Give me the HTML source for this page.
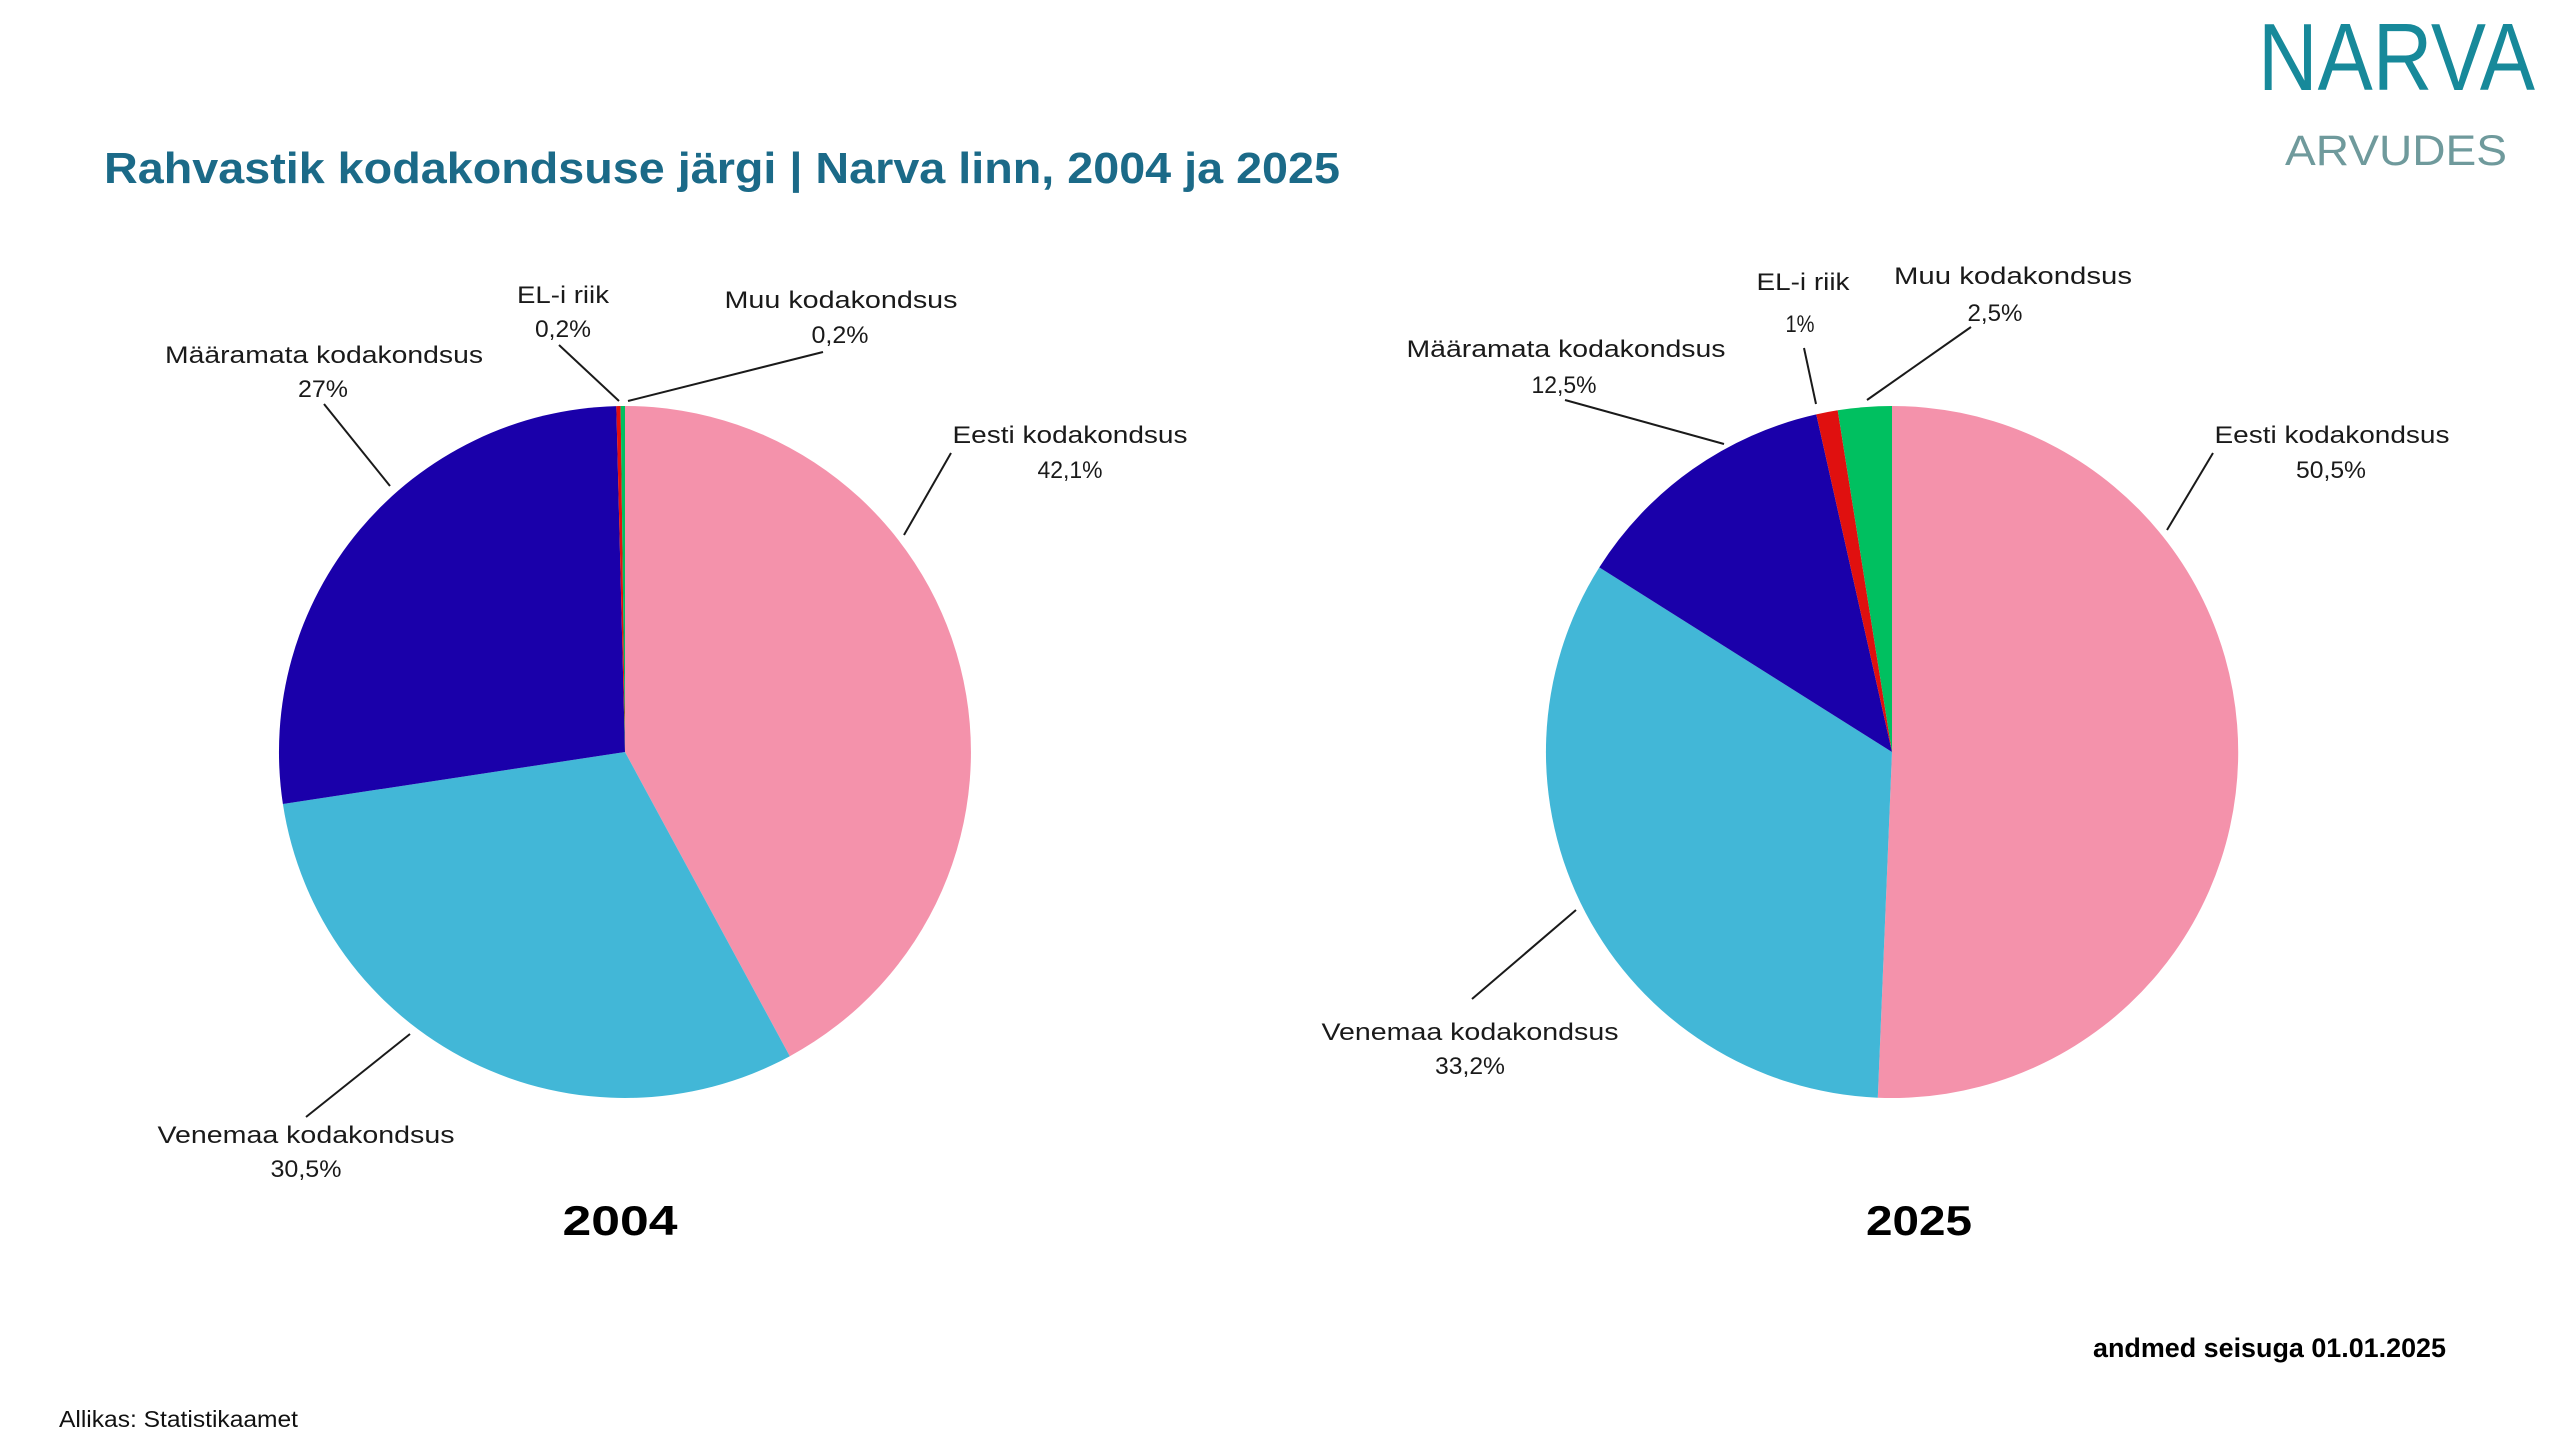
<!DOCTYPE html>
<html>
<head>
<meta charset="utf-8">
<style>
html,body{margin:0;padding:0;background:#fff;}
svg{display:block;}
text{font-family:"Liberation Sans",sans-serif;}
</style>
</head>
<body>
<svg width="2560" height="1440" viewBox="0 0 2560 1440" xmlns="http://www.w3.org/2000/svg">
<rect width="2560" height="1440" fill="#ffffff"/>

<!-- Logo -->
<text transform="translate(2258,90) scale(1,1.19)" x="0" y="0" font-size="80" fill="#17899a" textLength="277" lengthAdjust="spacingAndGlyphs">NARVA</text>
<text x="2285" y="165" font-size="43" fill="#6f9a9c" textLength="222" lengthAdjust="spacingAndGlyphs">ARVUDES</text>

<!-- Title -->
<text x="104" y="183" font-size="44" font-weight="bold" fill="#1b6a88" textLength="1236" lengthAdjust="spacingAndGlyphs">Rahvastik kodakondsuse järgi | Narva linn, 2004 ja 2025</text>

<!-- Pie 2004 -->
<g>
<path d="M625,752 L625,406 A346,346 0 0 1 789.8,1056.2 Z" fill="#f492ab"/>
<path d="M625,752 L789.8,1056.2 A346,346 0 0 1 282.9,804.0 Z" fill="#42b7d7"/>
<path d="M625,752 L282.9,804.0 A346,346 0 0 1 616.3,406.1 Z" fill="#1a00aa"/>
<path d="M625,752 L616.3,406.1 A346,346 0 0 1 620.65,406.03 Z" fill="#e0100f"/>
<path d="M625,752 L620.65,406.03 A346,346 0 0 1 625,406 Z" fill="#00c060"/>
</g>

<!-- Pie 2025 -->
<g>
<path d="M1892,752 L1892,406 A346,346 0 1 1 1877.8,1097.7 Z" fill="#f492ab"/>
<path d="M1892,752 L1877.8,1097.7 A346,346 0 0 1 1599.3,567.4 Z" fill="#42b7d7"/>
<path d="M1892,752 L1599.3,567.4 A346,346 0 0 1 1816.3,414.4 Z" fill="#1a00aa"/>
<path d="M1892,752 L1816.3,414.4 A346,346 0 0 1 1837.7,410.3 Z" fill="#e0100f"/>
<path d="M1892,752 L1837.7,410.3 A346,346 0 0 1 1892,406 Z" fill="#00c060"/>
</g>

<!-- Leader lines -->
<g stroke="#1a1a1a" stroke-width="2" fill="none">
<line x1="559" y1="345" x2="619" y2="401"/>
<line x1="823" y1="352" x2="628" y2="401"/>
<line x1="324" y1="404" x2="390" y2="486"/>
<line x1="951" y1="453" x2="904" y2="535"/>
<line x1="306" y1="1117" x2="410" y2="1034"/>

<line x1="1804" y1="348" x2="1816" y2="404"/>
<line x1="1971" y1="327" x2="1867" y2="400"/>
<line x1="1565" y1="400" x2="1724" y2="444"/>
<line x1="2213" y1="453" x2="2167" y2="530"/>
<line x1="1576" y1="910" x2="1472" y2="999"/>
</g>

<!-- Labels 2004 -->
<g font-size="24" fill="#1a1a1a" text-anchor="middle">
<text x="563" y="303" textLength="92" lengthAdjust="spacingAndGlyphs">EL-i riik</text>
<text x="563" y="337" textLength="56" lengthAdjust="spacingAndGlyphs">0,2%</text>
<text x="841" y="308" textLength="233" lengthAdjust="spacingAndGlyphs">Muu kodakondsus</text>
<text x="840" y="343" textLength="57" lengthAdjust="spacingAndGlyphs">0,2%</text>
<text x="324" y="363" textLength="318" lengthAdjust="spacingAndGlyphs">Määramata kodakondsus</text>
<text x="323" y="397" textLength="50" lengthAdjust="spacingAndGlyphs">27%</text>
<text x="1070" y="443" textLength="235" lengthAdjust="spacingAndGlyphs">Eesti kodakondsus</text>
<text x="1070" y="478" textLength="65" lengthAdjust="spacingAndGlyphs">42,1%</text>
<text x="306" y="1143" textLength="297" lengthAdjust="spacingAndGlyphs">Venemaa kodakondsus</text>
<text x="306" y="1177" textLength="71" lengthAdjust="spacingAndGlyphs">30,5%</text>
</g>

<!-- Labels 2025 -->
<g font-size="24" fill="#1a1a1a" text-anchor="middle">
<text x="1803" y="290" textLength="93" lengthAdjust="spacingAndGlyphs">EL-i riik</text>
<text x="1800" y="332" textLength="29" lengthAdjust="spacingAndGlyphs">1%</text>
<text x="2013" y="284" textLength="238" lengthAdjust="spacingAndGlyphs">Muu kodakondsus</text>
<text x="1995" y="321" textLength="55" lengthAdjust="spacingAndGlyphs">2,5%</text>
<text x="1566" y="357" textLength="319" lengthAdjust="spacingAndGlyphs">Määramata kodakondsus</text>
<text x="1564" y="393" textLength="65" lengthAdjust="spacingAndGlyphs">12,5%</text>
<text x="2332" y="443" textLength="235" lengthAdjust="spacingAndGlyphs">Eesti kodakondsus</text>
<text x="2331" y="478" textLength="70" lengthAdjust="spacingAndGlyphs">50,5%</text>
<text x="1470" y="1040" textLength="297" lengthAdjust="spacingAndGlyphs">Venemaa kodakondsus</text>
<text x="1470" y="1074" textLength="70" lengthAdjust="spacingAndGlyphs">33,2%</text>
</g>

<!-- Year labels -->
<text x="620" y="1235" font-size="42" font-weight="bold" fill="#000" text-anchor="middle" textLength="115" lengthAdjust="spacingAndGlyphs">2004</text>
<text x="1919" y="1235" font-size="42" font-weight="bold" fill="#000" text-anchor="middle" textLength="106" lengthAdjust="spacingAndGlyphs">2025</text>

<!-- Footer -->
<text x="2093" y="1357" font-size="27" font-weight="bold" fill="#000" textLength="353" lengthAdjust="spacingAndGlyphs">andmed seisuga 01.01.2025</text>
<text x="59" y="1427" font-size="23" fill="#111" textLength="239" lengthAdjust="spacingAndGlyphs">Allikas: Statistikaamet</text>
</svg>
</body>
</html>
